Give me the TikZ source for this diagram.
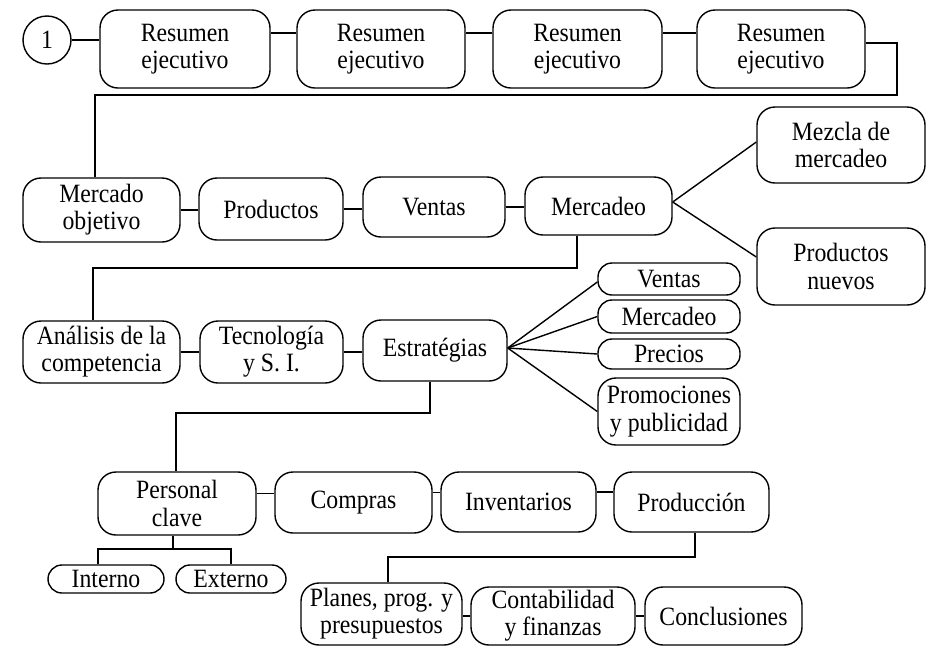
\documentclass[tikz,border=0pt]{standalone}
\usepackage{fontspec}
\setmainfont{Liberation Serif}[FakeStretch=0.9]
\begin{document}
\begin{tikzpicture}[x=0.5pt,y=-0.5pt,
  box/.style={draw, rounded corners=9pt, align=center, inner sep=0pt, line width=0.7pt, font=\fontsize{13.2}{13.6}\selectfont},
  pill/.style={box, rounded corners=7pt},
  conn/.style={draw, line width=0.7pt}]
\useasboundingbox (0,0) rectangle (930,649);
% row 1
\node[circle, draw, line width=0.7pt, minimum size=24pt, inner sep=0pt, font=\fontsize{13.2}{13.6}\selectfont] (c1) at (47,40) {1};
\node[box, minimum width=85pt, minimum height=39pt] (r1) at (185,49) {Resumen\\ejecutivo};
\node[box, minimum width=84pt, minimum height=39pt] (r2) at (381,49) {Resumen\\ejecutivo};
\node[box, minimum width=84.5pt, minimum height=39pt] (r3) at (577.5,49) {Resumen\\ejecutivo};
\node[box, minimum width=84pt, minimum height=39pt] (r4) at (781,49) {Resumen\\ejecutivo};
% row 2
\node[box, minimum width=78.5pt, minimum height=32pt] (mo) at (101.5,210) {Mercado\\objetivo};
\node[box, minimum width=72pt, minimum height=31pt] (prod) at (271,209) {Productos};
\node[box, minimum width=71pt, minimum height=30pt] (ven) at (434,207) {Ventas};
\node[box, minimum width=73.5pt, minimum height=29pt] (mer) at (598.5,206) {Mercadeo};
\node[box, minimum width=84pt, minimum height=38pt] (mez) at (841,145) {Mezcla de\\mercadeo};
\node[box, minimum width=84pt, minimum height=38.5pt] (pn) at (841,266.5) {Productos\\nuevos};
% row 3
\node[box, minimum width=78.5pt, minimum height=31pt] (an) at (101.5,352) {Análisis de la\\competencia};
\node[box, minimum width=71.5pt, minimum height=31pt] (tec) at (271.5,352) {Tecnología\\y S. I.};
\node[box, minimum width=72pt, minimum height=30.5pt] (est) at (435,350.5) {Estratégias};
\node[pill, minimum width=71pt, minimum height=16pt] (pv) at (669,279) {Ventas};
\node[pill, minimum width=71pt, minimum height=16.5pt] (pm) at (669,316.5) {Mercadeo};
\node[pill, minimum width=71pt, minimum height=15pt] (pp) at (669,354) {Precios};
\node[box, minimum width=71pt, minimum height=33.5pt] (prom) at (669,411.5) {Promociones\\y publicidad};
% row 4
\node[box, minimum width=79pt, minimum height=31.5pt] (pc) at (177,503.5) {Personal\\clave};
\node[box, minimum width=78.5pt, minimum height=30.5pt] (com) at (353.5,502.5) {Compras};
\node[box, minimum width=77.5pt, minimum height=30pt] (inv) at (518.5,502) {Inventarios};
\node[box, minimum width=77.5pt, minimum height=30pt] (prd) at (691.5,502) {Producción};
\node[pill, minimum width=58pt, minimum height=14pt] (int) at (106,579) {Interno};
\node[pill, minimum width=55pt, minimum height=14pt] (ext) at (231,579) {Externo};
% row 5
\node[box, minimum width=80.5pt, minimum height=31pt] (pl) at (381.5,614) {Planes, prog. y\\presupuestos};
\node[box, minimum width=82pt, minimum height=29pt] (con) at (553,616) {Contabilidad\\y finanzas};
\node[box, minimum width=78.5pt, minimum height=29pt] (cl) at (723.5,616) {Conclusiones};
% coordinates
\coordinate (t1) at (897,95);
\coordinate (t2) at (95,95);
\coordinate (u1) at (93,268);
\coordinate (u2) at (176,413);
\coordinate (v1) at (173,549);
\coordinate (v2) at (388,557);
% connectors row 1
\draw[conn] (c1.east) -- (c1.east -| r1.west);
\draw[conn] ([yshift=8pt]r1.east) -- ([yshift=8pt]r2.west);
\draw[conn] ([yshift=8pt]r2.east) -- ([yshift=8pt]r3.west);
\draw[conn] ([yshift=8pt]r3.east) -- ([yshift=8pt]r4.west);
\draw[conn] ([yshift=3pt]r4.east) -| (t1) -- (t2) -- (t2 |- mo.north);
% row 2
\draw[conn] (mo.east) -- (mo.east -| prod.west);
\draw[conn] (prod.east) -- (prod.east -| ven.west);
\draw[conn] (ven.east) -- (ven.east -| mer.west);
\draw[conn] ([yshift=2pt]mer.east) -- ([yshift=1.5pt]mez.west);
\draw[conn] ([yshift=2pt]mer.east) -- ([yshift=4.75pt]pn.west);
\draw[conn] ([xshift=-10.75pt]mer.south) |- (u1) -- (u1 |- an.north);
% row 3
\draw[conn] (an.east) -- (tec.west);
\draw[conn] (tec.east) -- (tec.east -| est.west);
\draw[conn] ([yshift=1.25pt]est.east) -- ([yshift=-1.5pt]pv.west);
\draw[conn] ([yshift=1.25pt]est.east) -- (pm.west);
\draw[conn] ([yshift=1.25pt]est.east) -- (pp.west);
\draw[conn] ([yshift=1.25pt]est.east) -- (prom.west);
\draw[conn] ([xshift=-2.5pt]est.south) |- (u2) -- (u2 |- pc.north);
% row 4
\draw[conn] ([yshift=5pt]pc.east) -- ([yshift=5pt]pc.east -| com.west);
\draw[conn] ([yshift=5pt]com.east) -- ([yshift=5pt]com.east -| inv.west);
\draw[conn] ([yshift=5pt]inv.east) -- ([yshift=5pt]inv.east -| prd.west);
\draw[conn] (pc.south -| v1) -- (v1);
\draw[conn] ([xshift=-4pt]int.north) |- (ext.north |- v1) -- (ext.north);
\draw[conn] ([xshift=1.75pt]prd.south) |- (v2) -- (v2 |- pl.north);
% row 5
\draw[conn] (pl.east |- con.east) -- (con.west);
\draw[conn] (con.east) -- (cl.west);
\end{tikzpicture}
\end{document}
